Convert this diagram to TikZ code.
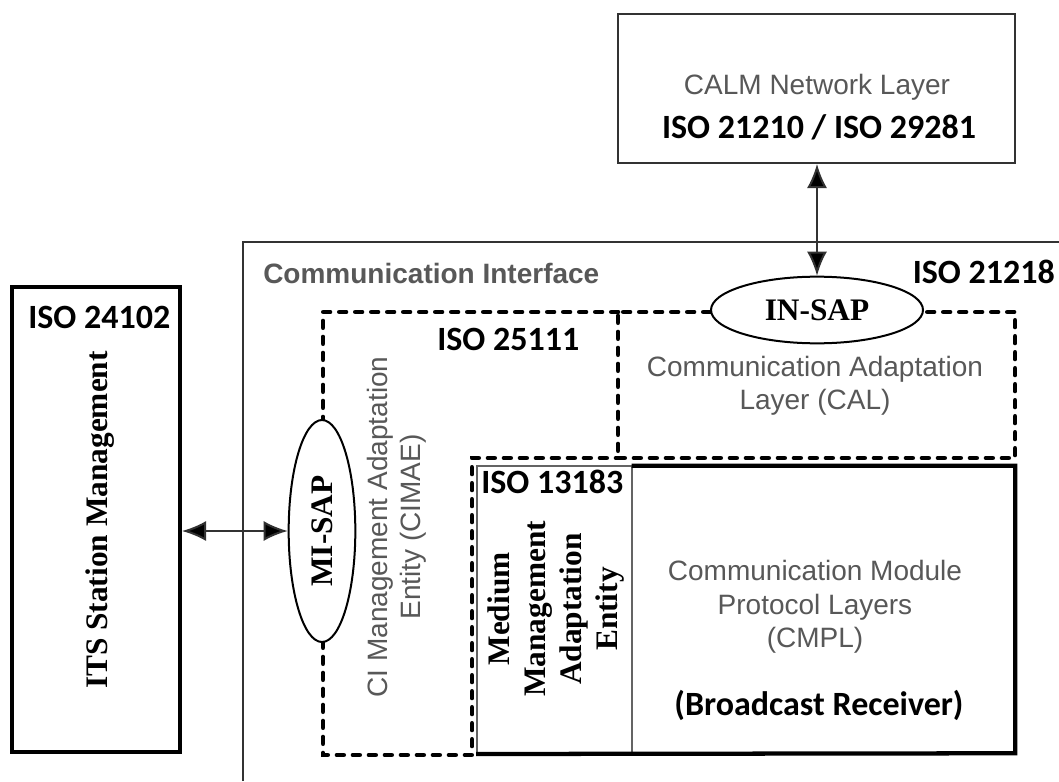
\documentclass[tikz,border=0pt]{standalone}
\usepackage{fontspec}
\usepackage{graphicx}
\setmainfont{Liberation Serif}
\newfontfamily\carl{Carlito}
\newfontfamily\arialf{Liberation Sans}
\usetikzlibrary{shapes.geometric,arrows.meta,fit}
\definecolor{txtgray}{RGB}{88,88,88}
\definecolor{linegray}{RGB}{50,50,50}
\definecolor{thingray}{RGB}{100,100,100}
\begin{document}
\begin{tikzpicture}[x=0.75pt,y=-0.75pt,
  isolbl/.style={font=\carl\bfseries\fontsize{25.5}{30}\selectfont, inner sep=0},
  graytxt/.style={font=\arialf\fontsize{21}{25}\selectfont, text=txtgray, inner sep=0, align=center},
  serifb/.style={font=\bfseries\fontsize{23.5}{27}\selectfont, inner sep=0, align=center},
  dashbox/.style={line width=3.5pt, dash pattern=on 5pt off 7pt, line cap=round},
  sapell/.style={ellipse, draw, fill=white, line width=1.5pt, inner sep=0},
  dbl/.style={{Latex[length=18pt,width=15pt,fill=black]}-{Latex[length=18pt,width=15pt,fill=black]}, line width=1.5pt, draw=linegray},
]
\useasboundingbox (0,0) rectangle (1059,781);
\fill[white] (0,0) rectangle (1059,781);

% CALM network layer
\node[draw=linegray, line width=1.5pt, inner sep=0, fit={(618,14)(1015,163)}] (calm) {};
\node[graytxt, anchor=base] (calmt) at (817,95) {CALM Network Layer};
\node[isolbl, anchor=base] (calmiso) at (819,138) {ISO 21210 / ISO 29281};

% Communication interface (extends beyond the frame)
\draw[linegray, line width=1.5pt] (243,781) -- (243,242) -- (1059,242);
\node[font=\arialf\bfseries\fontsize{21}{25}\selectfont, text=txtgray, anchor=base west, inner sep=0] (cilbl) at (263,283) {Communication Interface};
\node[isolbl, anchor=base east] (iso21218) at (1055,283) {ISO 21218};

% ITS station management
\node[draw, line width=3pt, inner sep=0, fit={(12,287)(180,752)}] (its) {};
\node[isolbl, anchor=base west] (iso24102) at (28,328) {ISO 24102};
\node[serifb, rotate=90] (itst) at (100,520) {ITS Station Management};

% CIMAE (L-shaped dashed area) and CAL
\node[draw, dashbox, inner sep=0, fit={(618,312)(1015,458)}] (cal) {};
\draw[dashbox] (618,312) -- (323,312) -- (323,755) -- (472,755) -- (472,458) -- (618,458);
\node[isolbl, anchor=base west] (iso25111) at (437,350) {ISO 25111};
\node[graytxt] (calt) at (815,386) {Communication Adaptation\\Layer (CAL)};
\node[graytxt, rotate=90] (cimaet) at (397,527) {CI Management Adaptation\\Entity (CIMAE)};

% MMAE and CMPL
\node[draw=thingray, line width=1.5pt, inner sep=0, fit={(477,466)(632,753)}] (mmae) {};
\node[inner sep=0, fit={(632,466)(1015,753)}] (cmpl) {};
\draw[line width=3.2pt] (mmae.south west) -- (cmpl.south east) -- (cmpl.north east) -- (cmpl.north west);
\node[isolbl, anchor=base west] (iso13183) at (481,493) {ISO 13183};
\node[serifb, rotate=90] (mmaet) at (556,609) {Medium\\Management\\Adaptation\\Entity};
\node[graytxt] (cmplt) at (815,607) {Communication Module\\Protocol Layers\\(CMPL)};
\node[isolbl, anchor=base] (bcast) at (819,715) {(Broadcast Receiver)};

% SAPs
\node[sapell, minimum width=159pt, minimum height=50pt] (insap) at (817,310) {};
\node[serifb] (insapt) at (insap.center) {IN-SAP};
\node[sapell, minimum width=50pt, minimum height=166.5pt] (misap) at (322,531) {};
\node[serifb, rotate=90] (misapt) at (misap.center) {MI-SAP};

% connectors
\draw[dbl] (calm.south -| insap.north) -- (insap.north);
\draw[dbl] (its.east |- misap.west) -- (misap.west);
\end{tikzpicture}
\end{document}
